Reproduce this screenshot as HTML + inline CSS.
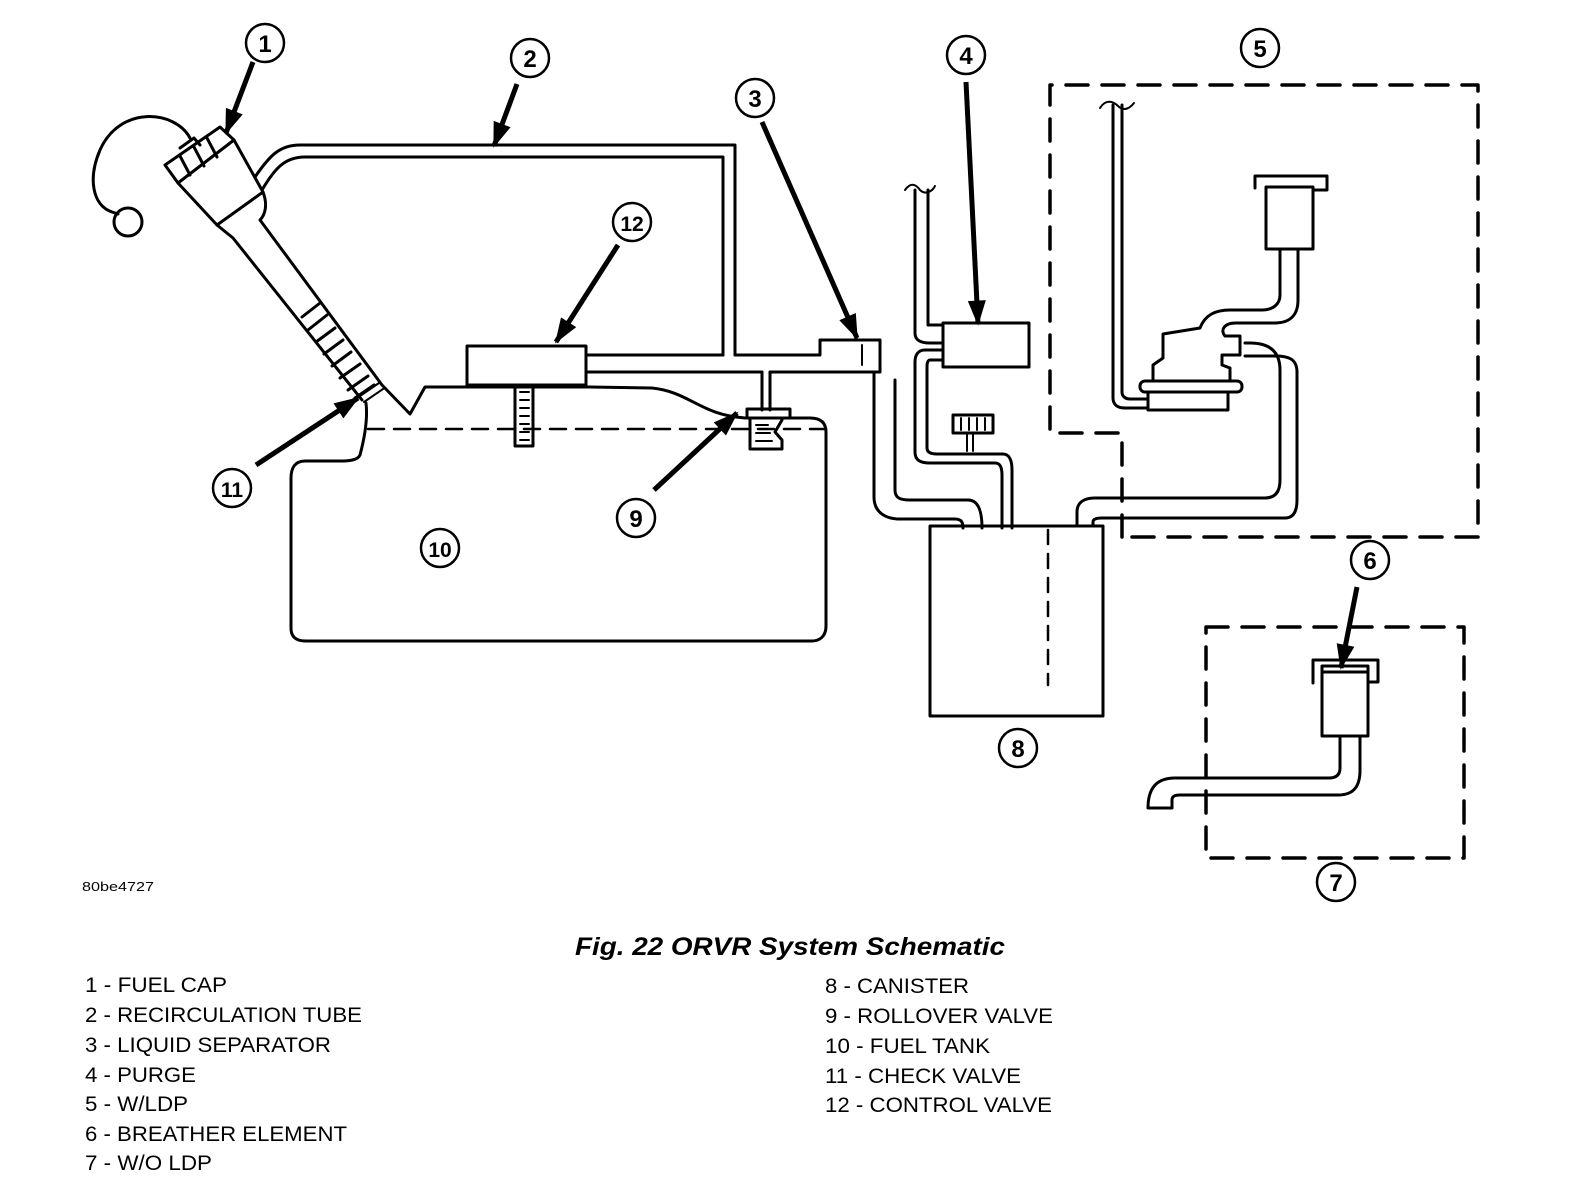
<!DOCTYPE html>
<html><head><meta charset="utf-8"><style>
html,body{margin:0;padding:0;background:#fff;}
svg{display:block}
text{font-family:"Liberation Sans",sans-serif;fill:#000}
</style></head><body>
<svg width="1584" height="1200" viewBox="0 0 1584 1200" xmlns="http://www.w3.org/2000/svg">
<defs>
<marker id="ah" viewBox="0 0 14 10" refX="13" refY="5" markerWidth="6" markerHeight="3.6" orient="auto" markerUnits="strokeWidth">
<path d="M0,0 L14,5 L0,10 z" fill="#000"/></marker>
</defs>
<g fill="none" stroke="#000" stroke-width="3" stroke-linejoin="round" stroke-linecap="round">
<path d="M190,138 C175,110 120,105 100,150 C88,178 92,205 112,212 L118,214"/>
<circle cx="128" cy="222" r="14"/>
<path d="M165,165 L220,127 L234,140 L178,183 Z"/>
<path d="M180,156 L190,175 M194,147 L204,166 M207,138 L217,157"/>
<path d="M180,148 L194,138 L200,145"/>
<path d="M178,183 L217,225 L233,238 L362,400"/>
<path d="M234,140 L263,192 C268,205 265,215 260,220 L382,385 L410,414 L425,387 L590,387 L652,388 C690,392 700,415 745,418"/>
<path d="M217,225 L263,192"/>
<path d="M302,317 L320,303 M308,330 L327,315 M316,342 L335,328 M324,354 L343,340 M332,366 L351,352 M340,378 L360,364 M348,390 L368,376 M355,398 L374,385"/>
<path d="M360,396 L379,383 M364,402 L383,389" stroke-width="2"/>
<path d="M255,177 C270,155 280,145 300,145 L735,145 L735,355"/>
<path d="M262,190 C275,168 285,157 305,157 L723,157 L723,355"/>
<rect x="467" y="346" width="119" height="39"/>
<path d="M586,355 L723,355 M735,355 L820,355 L820,340 L880,340 L880,372 L873,372 M586,372 L762,372 M770,372 L873,372"/>
<path d="M862,345 L862,365" stroke-width="2"/>
<path d="M515,388 L515,446 L533,446 L533,388"/>
<path d="M520,392 L529,392 M520,400 L529,400 M520,408 L529,408 M520,416 L529,416 M520,424 L529,424 M520,432 L529,432 M520,440 L529,440" stroke-width="2"/>
<path d="M762,372 L762,410 M770,372 L770,410"/>
<rect x="747" y="409" width="43" height="9"/>
<path d="M750,418 L750,449 L782,449 L782,440 L775,432 L782,420"/>
<path d="M756,425 L768,425 M756,433 L770,433 M756,441 L772,441" stroke-width="2"/>
<path d="M366,403 C368,420 364,440 360,455 C358,460 350,461 340,461 L305,461 C295,461 291,468 291,478 L291,628 C291,637 296,641 306,641 L812,641 C820,641 826,636 826,626 L826,432 C826,422 820,418 810,418 L790,418"/>
<path d="M368,429 L826,429" stroke-dasharray="16,10" stroke-width="2.5"/>
<path d="M874,372 L874,497 C874,512 885,519 900,519 L955,519 C962,519 963,523 963,528"/>
<path d="M895,380 L895,490 C895,498 900,500 910,500 L968,500 C977,500 982,508 982,528"/>
<rect x="943" y="323" width="86" height="44"/>
<path d="M915,190 L915,333 C915,340 920,343 930,343 L943,343"/>
<path d="M928,190 L928,325 L943,325"/>
<path d="M943,350 L925,350 C918,350 915,355 915,362 L915,452 C915,460 920,463 930,463 L995,463 C1000,463 1002,467 1002,475 L1002,528"/>
<path d="M943,360 L930,360 C928,360 927,363 927,366 L927,448 C927,452 930,454 937,454 L1003,454 C1009,454 1012,460 1012,470 L1012,528"/>
<path d="M905,190 C910,183 915,183 920,190 C925,195 932,192 935,186" stroke-width="2"/>
<rect x="953" y="415" width="40" height="18"/>
<path d="M961,418 L961,430 M969,418 L969,430 M977,418 L977,430 M985,418 L985,430" stroke-width="2"/>
<path d="M967,433 L967,451 M973,433 L973,451" stroke-width="2"/>
<rect x="930" y="526" width="173" height="190"/>
<path d="M1048,530 L1048,685" stroke-dasharray="14,10" stroke-width="2.5"/>
<path d="M1077,526 L1077,512 C1077,503 1083,498 1095,498 L1265,498 C1275,498 1280,492 1280,480 L1280,370 C1280,352 1270,343 1250,343 L1245,343"/>
<path d="M1093,526 L1093,522 C1093,519 1097,518 1102,518 L1285,518 C1293,518 1297,512 1297,500 L1297,372 C1297,358 1287,356 1275,356 L1245,356"/>
<path d="M1255,188 L1255,176 L1327,176 L1327,190 L1313,190"/>
<rect x="1266" y="187" width="47" height="62"/>
<path d="M1280,249 L1280,295 C1280,305 1272,310 1262,310 L1230,310 C1215,310 1205,315 1200,328 L1163,334 L1163,358 L1153,365 L1153,380"/>
<path d="M1298,249 L1298,300 C1298,315 1290,323 1275,323 L1236,323 C1224,323 1220,330 1225,336 L1240,336 L1240,355 L1222,355 L1222,365 L1230,368 L1230,380"/>
<rect x="1140" y="381" width="102" height="11" rx="5"/>
<rect x="1148" y="392" width="80" height="18"/>
<path d="M1113,105 L1113,398 C1113,405 1118,408 1125,408 L1148,408"/>
<path d="M1122,105 L1122,392 C1122,397 1126,399 1130,399 L1148,399"/>
<path d="M1100,108 C1105,100 1112,100 1118,106 C1124,112 1130,108 1134,103" stroke-width="2"/>
<path d="M1122,537 L1122,433 L1050,433 L1050,85 L1478,85 L1478,537 Z" stroke-dasharray="22,14" stroke-width="3.5"/>
<path d="M1206,627 L1464,627 L1464,858 L1206,858 Z" stroke-dasharray="22,14" stroke-width="3.5"/>
<path d="M1313,683 L1313,660 L1378,660 L1378,682 L1370,682"/>
<path d="M1322,672 L1322,666 L1368,666 L1368,672"/>
<rect x="1322" y="672" width="46" height="64"/>
<path d="M1340,736 L1340,768 C1340,775 1336,778 1329,778 L1175,778 C1155,778 1148,790 1148,808 L1172,808 L1172,800 C1172,796 1175,795 1180,795 L1338,795 C1355,795 1360,785 1360,770 L1360,736"/>
</g>
<g stroke="#000" stroke-width="5" fill="none" marker-end="url(#ah)">
<line x1="253" y1="62" x2="226" y2="133"/>
<line x1="517" y1="84" x2="494" y2="146"/>
<line x1="762" y1="122" x2="857" y2="338"/>
<line x1="966" y1="82" x2="978" y2="324"/>
<line x1="618" y1="245" x2="556" y2="342"/>
<line x1="256" y1="465" x2="358" y2="398"/>
<line x1="654" y1="490" x2="737" y2="413"/>
<line x1="1357" y1="587" x2="1341" y2="668"/>
</g>
<g fill="#fff" stroke="#000" stroke-width="2.5">
<circle cx="265" cy="43" r="19"/><circle cx="530" cy="58" r="19"/><circle cx="755" cy="98" r="19"/>
<circle cx="966" cy="55" r="19"/><circle cx="1260" cy="48" r="19"/><circle cx="632" cy="222" r="19"/>
<circle cx="232" cy="488" r="19"/><circle cx="636" cy="518" r="19"/><circle cx="440" cy="548" r="19"/>
<circle cx="1018" cy="748" r="19"/><circle cx="1370" cy="560" r="19"/><circle cx="1336" cy="882" r="19"/>
</g>
<g font-size="24" font-weight="bold" text-anchor="middle">
<text x="265" y="52">1</text><text x="530" y="67">2</text><text x="755" y="107">3</text>
<text x="966" y="64">4</text><text x="1260" y="57">5</text><text x="632" y="231" font-size="21">12</text>
<text x="232" y="497" font-size="21">11</text><text x="636" y="527">9</text><text x="440" y="557" font-size="21">10</text>
<text x="1018" y="757">8</text><text x="1370" y="569">6</text><text x="1336" y="891">7</text>
</g>
<text x="82" y="891" font-size="13" textLength="72" lengthAdjust="spacingAndGlyphs">80be4727</text>
<text x="575" y="955" font-size="25" font-weight="bold" font-style="italic" textLength="430" lengthAdjust="spacingAndGlyphs">Fig. 22 ORVR System Schematic</text>
<g font-size="21">
<text x="85" y="992" textLength="142" lengthAdjust="spacingAndGlyphs">1 - FUEL CAP</text>
<text x="85" y="1022" textLength="277" lengthAdjust="spacingAndGlyphs">2 - RECIRCULATION TUBE</text>
<text x="85" y="1052" textLength="246" lengthAdjust="spacingAndGlyphs">3 - LIQUID SEPARATOR</text>
<text x="85" y="1082" textLength="111" lengthAdjust="spacingAndGlyphs">4 - PURGE</text>
<text x="85" y="1111" textLength="103" lengthAdjust="spacingAndGlyphs">5 - W/LDP</text>
<text x="85" y="1141" textLength="262" lengthAdjust="spacingAndGlyphs">6 - BREATHER ELEMENT</text>
<text x="85" y="1170" textLength="127" lengthAdjust="spacingAndGlyphs">7 - W/O LDP</text>
<text x="825" y="993" textLength="144" lengthAdjust="spacingAndGlyphs">8 - CANISTER</text>
<text x="825" y="1023" textLength="228" lengthAdjust="spacingAndGlyphs">9 - ROLLOVER VALVE</text>
<text x="825" y="1053" textLength="165" lengthAdjust="spacingAndGlyphs">10 - FUEL TANK</text>
<text x="825" y="1083" textLength="196" lengthAdjust="spacingAndGlyphs">11 - CHECK VALVE</text>
<text x="825" y="1112" textLength="227" lengthAdjust="spacingAndGlyphs">12 - CONTROL VALVE</text>
</g>
</svg>
</body></html>
